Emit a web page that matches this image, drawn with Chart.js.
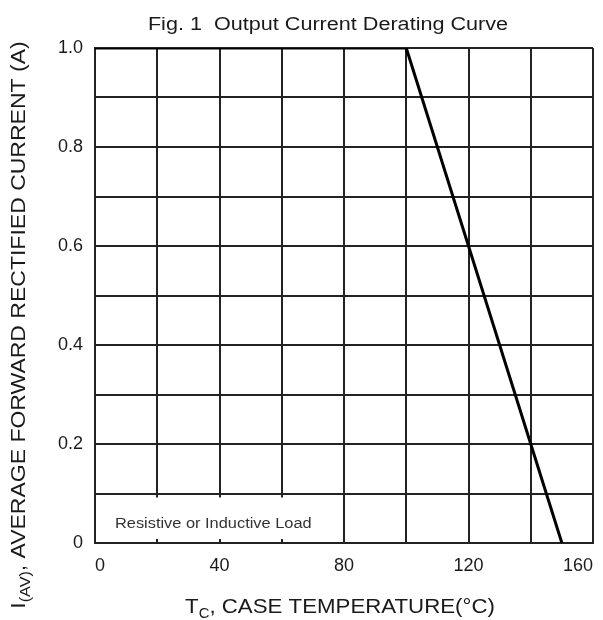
<!DOCTYPE html>
<html>
<head>
<meta charset="utf-8">
<script src="https://cdn.jsdelivr.net/npm/chart.js@4/dist/chart.umd.min.js"></script>
<style>
  html, body { margin: 0; padding: 0; background: #fff; }
  #wrap { width: 603px; height: 620px; }
</style>
</head>
<body>
<div id="wrap"><canvas id="myChart"></canvas></div>
<script>
// derating curve: case temperature (C) vs. output current (A)
const temps = [0, 100, 150];
const currents = [1.0, 1.0, 0];

// tick labels shown on the axes (grid is every 20 / every 0.1)
const xTickLabels = [0, 40, 80, 120, 160];
const yTickLabels = [0, 0.2, 0.4, 0.6, 0.8, 1.0];

const chartTitle = 'Fig. 1  Output Current Derating Curve';
const noteText = 'Resistive or Inductive Load';

const FONT = '"Liberation Sans", Arial, sans-serif';
const INK = '#1a1a1a';

// write a string made of pieces (normal + subscript), centred on x,
// stretched sideways by sx like the scanned original
function drawRich(ctx, parts, x, y, sx) {
    let total = 0;
    parts.forEach(p => {
        ctx.font = p.size + 'px ' + FONT;
        p.w = ctx.measureText(p.t).width * sx;
        total += p.w;
    });
    let cx = x - total / 2;
    ctx.textAlign = 'left';
    ctx.textBaseline = 'alphabetic';
    parts.forEach(p => {
        ctx.save();
        ctx.font = p.size + 'px ' + FONT;
        ctx.translate(cx, y + (p.dy || 0));
        ctx.scale(sx, 1);
        ctx.fillText(p.t, 0, 0);
        ctx.restore();
        cx += p.w;
    });
}

const textPlugin = {
    id: 'textPlugin',
    beforeDatasetsDraw(chart) {
        // white box for the load note, over the grid
        const ctx = chart.ctx;
        const xs = chart.scales.x, ys = chart.scales.y;
        const l = xs.getPixelForValue(0) + 2;
        const r = xs.getPixelForValue(78);
        const t = ys.getPixelForValue(0.092);
        const b = ys.getPixelForValue(0.008);
        ctx.save();
        ctx.fillStyle = '#fff';
        ctx.fillRect(l, t, r - l, b - t);
        ctx.fillStyle = '#333';
        drawRich(ctx, [{ t: noteText, size: 14 }],
            xs.getPixelForValue(38), ys.getPixelForValue(0.04) + 5, 1.17);
        ctx.restore();
    },
    afterDraw(chart) {
        const ctx = chart.ctx;
        ctx.save();
        ctx.fillStyle = INK;

        // title
        drawRich(ctx, [{ t: chartTitle, size: 18 }], 328, 30, 1.2);

        // x axis title
        drawRich(ctx, [
            { t: 'T', size: 21 },
            { t: 'C', size: 14, dy: 5 },
            { t: ', CASE TEMPERATURE(\u00B0C)', size: 21 }
        ], 340, 613, 1.06);

        // y axis title, rotated
        ctx.translate(25, 325);
        ctx.rotate(-Math.PI / 2);
        drawRich(ctx, [
            { t: 'I', size: 20 },
            { t: '(AV)', size: 14, dy: 5 },
            { t: ', AVERAGE FORWARD RECTIFIED CURRENT (A)', size: 20 }
        ], 0, 0, 1.15);
        ctx.restore();
    }
};

var graphTarget = document.getElementById('myChart');

var chartdata = {
    datasets: [{
        label: 'I(AV)',
        data: temps.map((t, i) => ({ x: t, y: currents[i] })),
        borderColor: '#000',
        borderWidth: 3,
        pointRadius: 0,
        fill: false,
        tension: 0
    }]
};

var lineGraph = new Chart(graphTarget, {
    type: 'line',
    data: chartdata,
    plugins: [textPlugin],
    options: {
        responsive: true,
        maintainAspectRatio: false,
        animation: false,
        layout: { padding: { top: 48, right: 10, left: 0, bottom: 0 } },
        plugins: {
            legend: { display: false },
            title: { display: false },
            tooltip: { enabled: false }
        },
        scales: {
            x: {
                type: 'linear',
                min: 0,
                max: 160,
                afterFit: s => { s.height = 77; s.paddingRight = 0; s.paddingLeft = 0; },
                ticks: {
                    stepSize: 20,
                    autoSkip: false,
                    maxRotation: 0,
                    align: 'inner',
                    color: INK,
                    font: { family: FONT, size: 18 },
                    padding: 12,
                    callback: v => xTickLabels.includes(v) ? String(v) : ''
                },
                grid: { color: '#222', lineWidth: 2, drawTicks: false },
                border: { color: '#222', width: 2 }
            },
            y: {
                min: 0,
                max: 1.0,
                afterFit: s => { s.width = 95; s.paddingTop = 0; s.paddingBottom = 0; },
                ticks: {
                    stepSize: 0.1,
                    autoSkip: false,
                    color: INK,
                    font: { family: FONT, size: 18 },
                    padding: 12,
                    callback: v => {
                        const r = Math.round(v * 10) / 10;
                        if (!yTickLabels.some(k => Math.abs(k - r) < 1e-6)) return '';
                        return r === 0 ? '0' : r.toFixed(1);
                    }
                },
                grid: { color: '#222', lineWidth: 2, drawTicks: false },
                border: { color: '#222', width: 2 }
            }
        }
    }
});
</script>
</body>
</html>
